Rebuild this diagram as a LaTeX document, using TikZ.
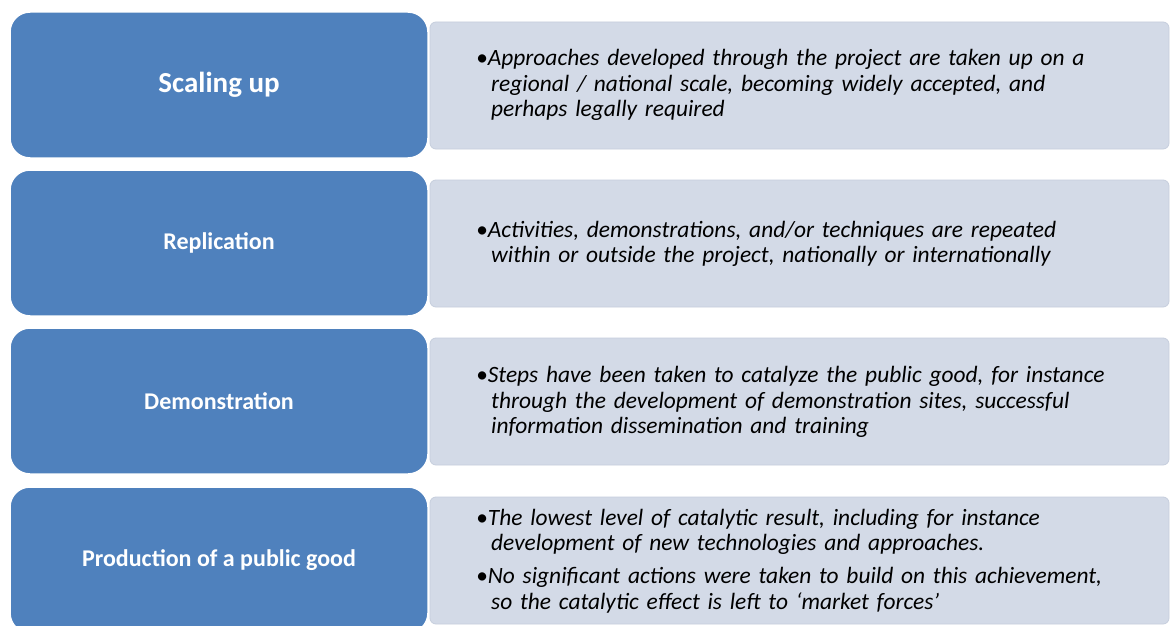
\documentclass[tikz,border=0pt]{standalone}
\usepackage{fontspec}
\setmainfont{Carlito}
\definecolor{levelblue}{HTML}{4F81BD}
\definecolor{notefill}{HTML}{D3DAE7}
\definecolor{noteedge}{HTML}{C6CEDD}
% bullet and hanging continuation lines
\newcommand{\bul}{\textbullet}
\newcommand{\cont}{\hspace*{15pt}}
\begin{document}
\begin{tikzpicture}[x=1pt,y=-1pt,
  level/.style={rectangle, rounded corners=20pt, fill=levelblue, draw=white, line width=1.5pt,
    minimum width=418pt, minimum height=146pt, text=white, inner sep=0pt,
    font=\bfseries\fontsize{24}{28}\selectfont},
  note/.style={rectangle, rounded corners=6pt, fill=notefill, draw=noteedge, line width=0.8pt,
    minimum width=739pt, minimum height=127pt, inner sep=0pt},
  notetext/.style={anchor=west, text width=660pt, align=left, inner sep=0pt,
    font=\itshape\fontsize{23.4}{25.7}\selectfont}]
\useasboundingbox (0,0) rectangle (1170,626);
\clip (0,0) rectangle (1170,626);
\fill[white] (0,0) rectangle (1170,626);

% description panels, behind the level boxes
\node[note] (n1) at (799.5,85.5) {};
\node[note] (n2) at (799.5,243.5) {};
\node[note] (n3) at (799.5,401.5) {};
\node[note] (n4) at (799.5,560.5) {};

% level boxes
\node[level] (l1) at (219,85) {\fontsize{29}{32}\selectfont Scaling up};
\node[level] (l2) at (219,243) {Replication};
\node[level] (l3) at (219,401) {Demonstration};
\node[level] (l4) at (219,560) {Production of a public good};

% descriptions
\node[notetext] (t1) at (476,85) {\bul Approaches developed through the project are taken up on a\\
\cont regional / national scale, becoming widely accepted, and\\
\cont perhaps legally required};
\node[notetext] (t2) at (476,244) {\bul Activities, demonstrations, and/or techniques are repeated\\
\cont within or outside the project, nationally or internationally};
\node[notetext] (t3) at (476,402) {\bul Steps have been taken to  catalyze the public good, for instance\\
\cont through the development of demonstration sites, successful\\
\cont information dissemination and training};
\node[notetext] (t4) at (476,561) {\bul The lowest level of catalytic result, including for instance\\
\cont development of new technologies and approaches.\\[7pt]
\bul No significant actions were taken to build on this achievement,\\
\cont so the catalytic effect is left to ‘market forces’};
\end{tikzpicture}
\end{document}
